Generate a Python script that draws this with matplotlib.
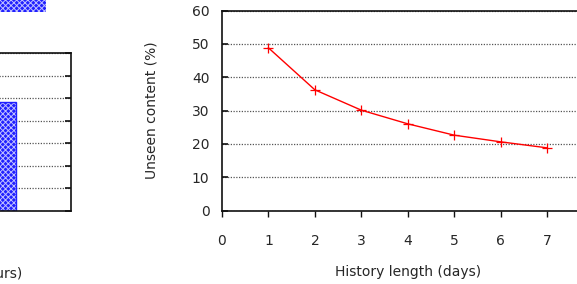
import matplotlib.pyplot as plt
from matplotlib.ticker import MultipleLocator

# left panel (mostly cropped out of the frame)
bar_labels = ['1', '2', '4', '8', '24']
bar_values = [20.0, 28.0, 35.0, 42.0, 48.3]

# right panel
days = [1, 2, 3, 4, 5, 6, 7]
unseen = [48.8, 36.2, 30.1, 26.0, 22.6, 20.6, 18.8]

W, H = 577, 284
plt.rcParams['font.family'] = 'DejaVu Sans'
plt.rcParams['hatch.linewidth'] = 0.7
fig = plt.figure(figsize=(W / 100, H / 100), dpi=100)
txt = '#262626'


def style(ax):
    for s in ax.spines.values():
        s.set_linewidth(1.2)
        s.set_color('#111111')
    ax.tick_params(axis='y', direction='in', length=4, width=1.2, colors='#111111',
                   labelcolor=txt, labelsize=10, right=True, pad=9)
    ax.tick_params(axis='x', direction='out', length=4, width=1, colors='#111111',
                   labelcolor=txt, labelsize=10, pad=13)
    ax.yaxis.grid(True, linestyle=(0, (1, 1.2)), color='#555555', linewidth=0.9)
    ax.set_axisbelow(True)


# left axes: right edge at x=71 px
axl = fig.add_axes([-145 / W, 1 - 211 / H, 216 / W, 158 / H])
style(axl)
axl.bar(range(len(bar_values)), bar_values, width=0.8, facecolor='#2020ff',
        edgecolor='#c0c0ff', hatch='xxxxxx', linewidth=0, label='Unseen')
axl.bar(range(len(bar_values)), bar_values, width=0.8, fill=False,
        edgecolor='#2020ff', linewidth=1)
axl.set_xlim(-0.6, 6.11)
axl.set_ylim(0, 70)
axl.yaxis.set_major_locator(MultipleLocator(10))
axl.set_yticklabels([])
axl.set_xticks([])
axl.set_xlabel('Time window (hours)', color=txt, fontsize=10, labelpad=40)
axl.xaxis.label.set_x(0.44)
axl.legend(loc='upper right', bbox_to_anchor=(46 / W, 1.0), bbox_transform=fig.transFigure,
           frameon=False, borderpad=0, borderaxespad=0, markerfirst=False,
           handlelength=3.3, handleheight=0.9, fontsize=10)

# right axes
axr = fig.add_axes([222 / W, 1 - 210.5 / H, 371.5 / W, 200 / H])
style(axr)
axr.plot(days, unseen, color='#ff0000', linewidth=1, marker='+', markersize=7,
         markeredgewidth=0.9)
axr.set_xlim(0, 8)
axr.set_ylim(0, 60)
axr.set_xticks(range(0, 8))
axr.yaxis.set_major_locator(MultipleLocator(10))
axr.tick_params(axis='x', top=False)
axr.set_xlabel('History length (days)', color=txt, fontsize=10, labelpad=12)
axr.set_ylabel('Unseen content (%)', color=txt, fontsize=10, labelpad=24)

plt.savefig('out.png', dpi=100)
